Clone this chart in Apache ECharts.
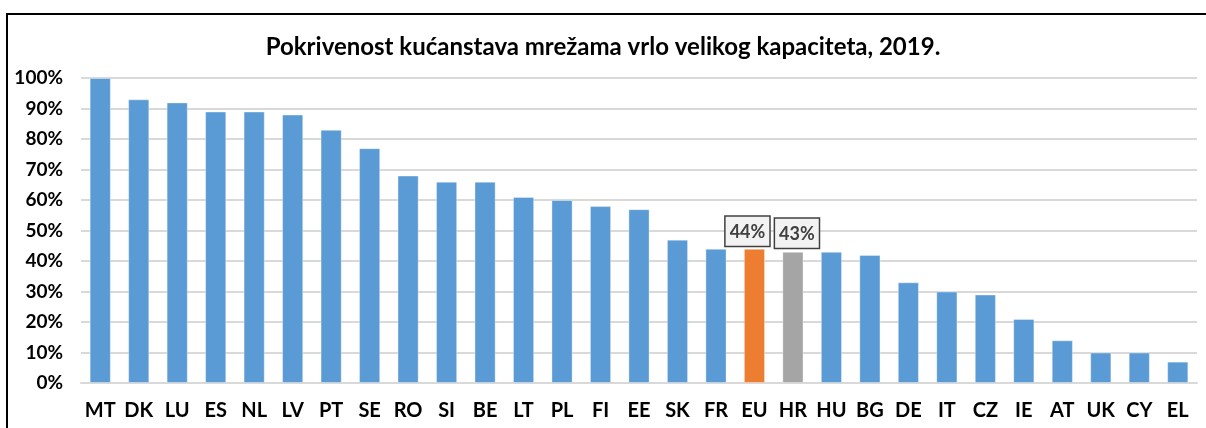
<!DOCTYPE html>
<html>
<head>
<meta charset="utf-8">
<title>Pokrivenost kućanstava</title>
<script src="https://cdn.jsdelivr.net/npm/echarts@6/dist/echarts.min.js"></script>
<style>
html, body { margin: 0; padding: 0; background: #fff; }
#main { width: 1206px; height: 428px; }
</style>
</head>
<body>
<div id="main"></div>
<script>
// podaci
var countries = ['MT','DK','LU','ES','NL','LV','PT','SE','RO','SI','BE','LT','PL','FI','EE','SK','FR','EU','HR','HU','BG','DE','IT','CZ','IE','AT','UK','CY','EL'];
var coverage = [100,93,92,89,89,88,83,77,68,66,66,61,60,58,57,47,44,44,43,43,42,33,30,29,21,14,10,10,7];
var yTicks = [0,10,20,30,40,50,60,70,80,90,100];

// istaknuti stupci: boja i pomak oznake
var barColor = '#5b9bd5';
var special = {
	EU: { color: '#ed7d31', offset: [-7, 0] },
	HR: { color: '#a5a5a5', offset: [4, -1] }
};

var font = 'Lato, "Open Sans", sans-serif';

var barData = countries.map(function (c, i) {
	var item = { value: coverage[i] };
	if (special[c]) {
		item.itemStyle = { color: special[c].color };
		item.label = {
			show: true,
			position: 'top',
			distance: 3,
			offset: special[c].offset,
			formatter: '{c}%',
			color: '#404040',
			fontFamily: font,
			fontWeight: 'bold',
			fontSize: 18,
			backgroundColor: '#f2f2f2',
			borderColor: '#404040',
			borderWidth: 1.5,
			padding: [6, 4, 5, 4]
		};
	}
	return item;
});

var myChart = echarts.init(document.getElementById('main'));
var option = {
	animation: false,
	graphic: [{
		type: 'rect',
		shape: { x: 7, y: 14, width: 1260, height: 500 },
		style: { fill: 'none', stroke: '#000', lineWidth: 2 },
		silent: true
	}],
	title: {
		text: 'Pokrivenost kućanstava mrežama vrlo velikog kapaciteta, 2019.',
		left: 'center',
		top: 30,
		textStyle: { fontFamily: font, fontWeight: 'bold', fontSize: 24, color: '#000' }
	},
	grid: { left: 81, right: 9, top: 78, bottom: 45 },
	xAxis: {
		type: 'category',
		data: countries,
		axisTick: { show: false },
		axisLine: { lineStyle: { color: '#d9d9d9', width: 2 } },
		axisLabel: { interval: 0, margin: 18, fontFamily: font, fontWeight: 'bold', fontSize: 20, color: '#000' }
	},
	yAxis: {
		type: 'value',
		min: yTicks[0],
		max: yTicks[yTicks.length - 1],
		interval: 10,
		axisLine: { show: false },
		axisTick: { show: false },
		splitLine: { lineStyle: { color: '#d9d9d9', width: 2 } },
		axisLabel: { margin: 18, formatter: '{value}%', fontFamily: font, fontWeight: 'bold', fontSize: 19, color: '#000' }
	},
	series: [{
		type: 'bar',
		data: barData,
		barCategoryGap: '45%',
		itemStyle: { color: barColor, borderColor: 'rgba(255,255,255,0.35)', borderWidth: 1 }
	}]
};
myChart.setOption(option);
</script>
</body>
</html>
